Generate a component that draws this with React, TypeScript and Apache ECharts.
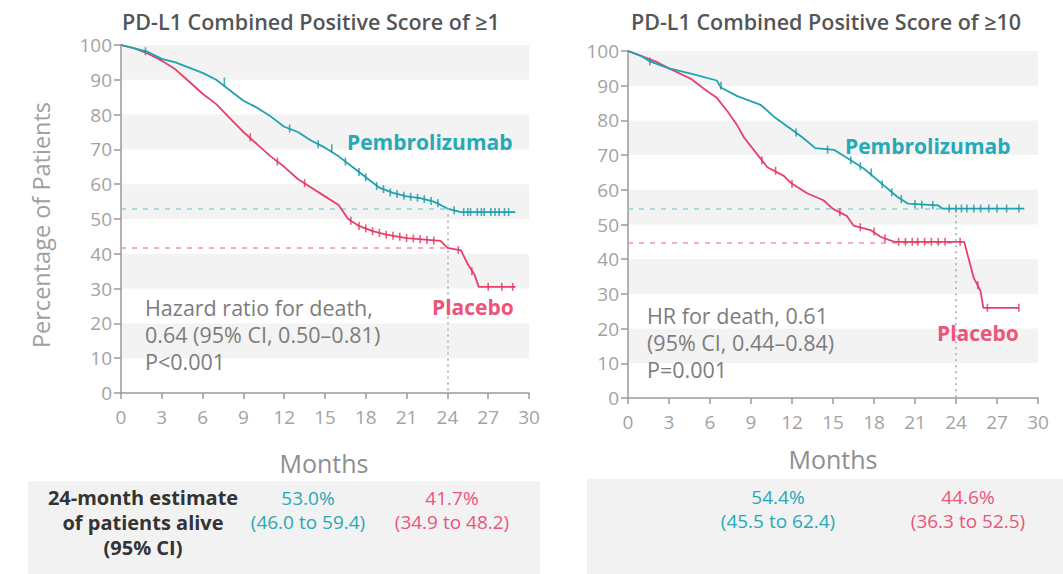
import React, { useEffect, useRef } from "react";
import * as echarts from "echarts";

// ---------- DATA ----------
const panelTitles = ["PD-L1 Combined Positive Score of \u22651", "PD-L1 Combined Positive Score of \u226510"];
const xAxisName = "Months";
const yAxisName = "Percentage of Patients";
const seriesNames = ["Pembrolizumab", "Placebo"];

// Kaplan-Meier curves [month, % alive]
const pembroCPS1: [number, number][] = [
  [0, 100], [1, 99], [2, 98], [3, 96], [4, 95], [5, 93.5], [6, 92], [7, 90], [8, 87], [9, 84],
  [10, 82], [11, 79.5], [12, 76.5], [13, 75], [14, 72.5], [15, 70.5], [16, 68], [17, 65], [18, 62],
  [19, 59], [20, 57.5], [21, 56.5], [22, 56], [23, 55], [24, 53], [25, 52], [29, 52],
];
const placeboCPS1: [number, number][] = [
  [0, 100], [1, 99], [2, 97.5], [3, 95.5], [4, 93], [5, 89.5], [6, 86], [7, 83], [8, 79], [9, 75],
  [10, 71.5], [11, 68], [12, 65], [13, 61.5], [14, 59], [15, 56.5], [16, 54], [16.7, 50], [17.5, 48],
  [18.5, 46.5], [19.5, 45.5], [21, 44.5], [23.5, 43.7], [24, 41.7], [25, 41], [25.5, 37], [26, 34],
  [26.3, 30.5], [29, 30.5],
];
const pembroCPS10: [number, number][] = [
  [0, 100], [1, 98.5], [1.6, 97], [3, 95], [4.6, 93.5], [6.5, 91.5], [6.8, 89.5], [8, 87], [9.7, 84.5],
  [10.7, 81], [12.1, 77], [12.8, 75], [13.7, 72], [15.1, 71.5], [16.1, 69], [17.3, 66], [18.5, 62],
  [19.7, 58], [20.5, 56], [22.7, 55.5], [23, 54.6], [29, 54.6],
];
const placeboCPS10: [number, number][] = [
  [0, 100], [1, 98.5], [2, 97], [3, 95], [4.6, 92], [5.6, 89], [6.5, 86.5], [7.3, 82.5], [8, 78.5],
  [8.5, 75], [9.5, 70], [10.2, 66.5], [11.4, 64], [11.9, 62], [13.1, 59], [14.3, 57], [15, 54.5],
  [16, 52.5], [16.5, 49.7], [17.8, 48.3], [18.5, 46.4], [19.5, 45], [24.6, 45], [24.8, 42], [25.3, 34.6],
  [25.8, 30.8], [26, 26], [28.6, 26],
];

// censoring ticks [month, %]
const censorPembro1: [number, number][] = [
  [1.8, 98.2], [7.6, 89.5], [12.4, 76], [14.5, 71.5], [15.5, 70.3], [16.5, 66.5], [17.5, 63.5], [18, 62],
  [18.8, 59.5], [19.3, 58.6], [19.8, 57.6], [20.3, 57.2], [20.8, 56.7], [21.3, 56.4], [21.8, 56.1],
  [22.3, 55.7], [22.8, 55.2], [23.3, 54.5], [24.5, 52.5], [25.2, 52], [25.5, 52], [25.7, 52], [26.2, 52],
  [26.5, 52], [26.7, 52], [27.2, 52], [27.5, 52], [27.8, 52], [28.2, 52], [28.5, 52],
];
const censorPlacebo1: [number, number][] = [
  [9.5, 73.5], [11.5, 66.5], [13.5, 60.3], [16.9, 49.5], [17.5, 48], [18, 47.3], [18.5, 46.5], [19, 46],
  [19.5, 45.5], [20, 45.2], [20.5, 44.9], [21, 44.5], [21.5, 44.4], [22, 44.2], [22.5, 44], [23, 43.8],
  [24.8, 41.1], [25.8, 35], [27, 30.5], [28, 30.5], [28.8, 30.5],
];
const censorPembro10: [number, number][] = [
  [1.6, 97], [6.8, 90], [12.3, 76.5], [14.6, 71.6], [16.3, 68.5], [17, 66.8], [17.8, 65], [18.6, 61.6],
  [19.3, 59.3], [20, 57.3], [21, 55.9], [21.5, 55.7], [22.3, 55.6], [23.5, 54.6], [24, 54.6], [24.4, 54.6],
  [24.8, 54.6], [25.3, 54.6], [25.8, 54.6], [26.4, 54.6], [27, 54.6], [27.7, 54.6], [28.6, 54.6],
];
const censorPlacebo10: [number, number][] = [
  [9.8, 68.5], [10.8, 65.5], [12, 61.7], [15.5, 53.5], [17, 49.2], [18, 48], [18.8, 46], [19.8, 45],
  [20.3, 45], [20.8, 45], [21.2, 45], [21.7, 45], [22.2, 45], [22.7, 45], [23.2, 45], [24.3, 45],
  [25.6, 32.5], [26.3, 26], [28.6, 26],
];

// 24-month estimates
const landmarkMonth = 24;
const est24Pembro = [53.0, 54.4];
const est24Placebo = [41.7, 44.6];
const ciPembro = ["(46.0 to 59.4)", "(45.5 to 62.4)"];
const ciPlacebo = ["(34.9 to 48.2)", "(36.3 to 52.5)"];
const hazardText = [
  ["Hazard ratio for death,", "0.64 (95% CI, 0.50\u20130.81)", "P<0.001"],
  ["HR for death, 0.61", "(95% CI, 0.44\u20130.84)", "P=0.001"],
];
const tableRowLabel = ["24-month estimate", "of patients alive", "(95% CI)"];

// ---------- STYLE ----------
const TEAL = "#1fa3b0";
const TEAL_LABEL = "#27a9b6";
const RED = "#e6406a";
const RED_LABEL = "#ec5579";
const AXIS_GRAY = "#9a9a9a";
const FONT = '"Open Sans", "Noto Sans", sans-serif';

function txt(text: string, x: number, y: number, opts: any = {}) {
  const align = opts.align || "left";
  const style: any = {
    text,
    fill: opts.fill || "#777",
    font: `${opts.weight || "normal"} ${opts.size || 20}px ${FONT}`,
    textAlign: align,
    align,
    textVerticalAlign: "middle",
    verticalAlign: "middle",
  };
  if (opts.lineHeight) style.lineHeight = opts.lineHeight;
  return {
    type: "text",
    x,
    y,
    z: 100,
    rotation: opts.rotation || 0,
    silent: true,
    style,
  };
}

export default function App() {
  const ref = useRef<HTMLDivElement>(null);

  useEffect(() => {
    document.body.style.margin = "0";
    if (!ref.current) return;
    const chart = echarts.init(ref.current, null, { renderer: "svg" });

    const grids = [
      { left: 121, top: 45, width: 408, height: 348 },
      { left: 628, top: 51, width: 410, height: 347 },
    ];

    const xAxes = grids.map((_, i) => ({
      type: "value",
      gridIndex: i,
      min: 0,
      max: 30,
      interval: 3,
      axisLine: { show: true, onZero: false, lineStyle: { color: AXIS_GRAY, width: 1.5 } },
      axisTick: { show: true, length: 6, lineStyle: { color: AXIS_GRAY, width: 1.5 } },
      axisLabel: { color: "#a3a3a3", fontSize: 19, fontFamily: FONT, margin: 14 },
      splitLine: { show: false },
    }));

    const yAxes = grids.map((_, i) => ({
      type: "value",
      gridIndex: i,
      min: 0,
      max: 100,
      interval: 10,
      axisLine: { show: true, lineStyle: { color: AXIS_GRAY, width: 1.5 } },
      axisTick: { show: true, length: 7, lineStyle: { color: AXIS_GRAY, width: 1.5 } },
      axisLabel: { color: "#a3a3a3", fontSize: 19, fontFamily: FONT, margin: 9 },
      splitLine: { show: false },
      splitArea: { show: true, areaStyle: { color: ["rgba(0,0,0,0)", "#f3f3f3"] } },
    }));

    const curves = [
      [pembroCPS1, placeboCPS1],
      [pembroCPS10, placeboCPS10],
    ];
    const censors = [
      [censorPembro1, censorPlacebo1],
      [censorPembro10, censorPlacebo10],
    ];

    const series: any[] = [];
    curves.forEach((pair, i) => {
      pair.forEach((data, j) => {
        const color = j === 0 ? TEAL : RED;
        const est = j === 0 ? est24Pembro[i] : est24Placebo[i];
        series.push({
          type: "line",
          name: seriesNames[j],
          xAxisIndex: i,
          yAxisIndex: i,
          data,
          showSymbol: false,
          z: j === 0 ? 4 : 3,
          lineStyle: { color, width: 1.8 },
          markLine: {
            silent: true,
            symbol: ["none", "none"],
            label: { show: false },
            lineStyle: { type: [5, 6], color: j === 0 ? "#8fd3da" : "#f193aa", width: 1.5 },
            data: [[{ coord: [0, est] }, { coord: [landmarkMonth, est] }]],
            z: 1,
          },
        });
      });
      // vertical landmark dotted line
      series.push({
        type: "line",
        xAxisIndex: i,
        yAxisIndex: i,
        data: [],
        markLine: {
          silent: true,
          symbol: ["none", "none"],
          label: { show: false },
          lineStyle: { type: [2, 4], color: "#b4bcc9", width: 2 },
          data: [[{ coord: [landmarkMonth, est24Pembro[i]] }, { coord: [landmarkMonth, 0] }]],
        },
      });
      censors[i].forEach((data, j) => {
        series.push({
          type: "scatter",
          xAxisIndex: i,
          yAxisIndex: i,
          data,
          symbol: "rect",
          symbolSize: [1.6, 8],
          z: 5,
          itemStyle: { color: j === 0 ? "#1a98a5" : "#e3365f" },
        });
      });
    });

    const graphics: any[] = [
      // table backgrounds
      { type: "rect", shape: { x: 28, y: 481, width: 512, height: 93 }, style: { fill: "#f2f2f2" }, silent: true, z: 1 },
      { type: "rect", shape: { x: 587, y: 479, width: 476, height: 95 }, style: { fill: "#f2f2f2" }, silent: true, z: 1 },
      // titles
      txt(panelTitles[0], 311, 21, { align: "center", weight: 600, size: 21.5, fill: "#555" }),
      txt(panelTitles[1], 826, 21, { align: "center", weight: 600, size: 21.5, fill: "#555" }),
      // axis names
      txt(yAxisName, 41, 225, { align: "center", size: 23.5, fill: "#a0a0a0", rotation: Math.PI / 2 }),
      txt(xAxisName, 324, 463, { align: "center", size: 25, fill: "#8e8e8e" }),
      txt(xAxisName, 833, 459, { align: "center", size: 25, fill: "#8e8e8e" }),
      // series labels
      txt(seriesNames[0], 347, 142, { weight: "bold", size: 21, fill: TEAL_LABEL }),
      txt(seriesNames[1], 432, 307, { weight: "bold", size: 21, fill: RED_LABEL }),
      txt(seriesNames[0], 845, 146, { weight: "bold", size: 21, fill: TEAL_LABEL }),
      txt(seriesNames[1], 937, 333, { weight: "bold", size: 21, fill: RED_LABEL }),
      // hazard annotations
      txt(hazardText[0].join("\n"), 145, 334, { size: 21.5, fill: "#7c7c7c", lineHeight: 27 }),
      txt(hazardText[1].join("\n"), 647, 342, { size: 21.5, fill: "#7c7c7c", lineHeight: 27 }),
      // table
      txt(tableRowLabel.join("\n"), 143, 522, { align: "center", weight: "bold", size: 20, fill: "#333", lineHeight: 25 }),
      txt(`${est24Pembro[0].toFixed(1)}%\n${ciPembro[0]}`, 308, 510, { align: "center", size: 19, fill: TEAL_LABEL, lineHeight: 24 }),
      txt(`${est24Placebo[0].toFixed(1)}%\n${ciPlacebo[0]}`, 452, 510, { align: "center", size: 19, fill: RED_LABEL, lineHeight: 24 }),
      txt(`${est24Pembro[1].toFixed(1)}%\n${ciPembro[1]}`, 778, 509, { align: "center", size: 19, fill: TEAL_LABEL, lineHeight: 24 }),
      txt(`${est24Placebo[1].toFixed(1)}%\n${ciPlacebo[1]}`, 968, 509, { align: "center", size: 19, fill: RED_LABEL, lineHeight: 24 }),
    ];

    chart.setOption({
      animation: false,
      backgroundColor: "#ffffff",
      grid: grids,
      xAxis: xAxes,
      yAxis: yAxes,
      series,
      graphic: graphics,
    });

    return () => chart.dispose();
  }, []);

  return (
    <div
      ref={ref}
      style={{ position: "absolute", left: 0, top: 0, width: 1063, height: 574 }}
    />
  );
}
